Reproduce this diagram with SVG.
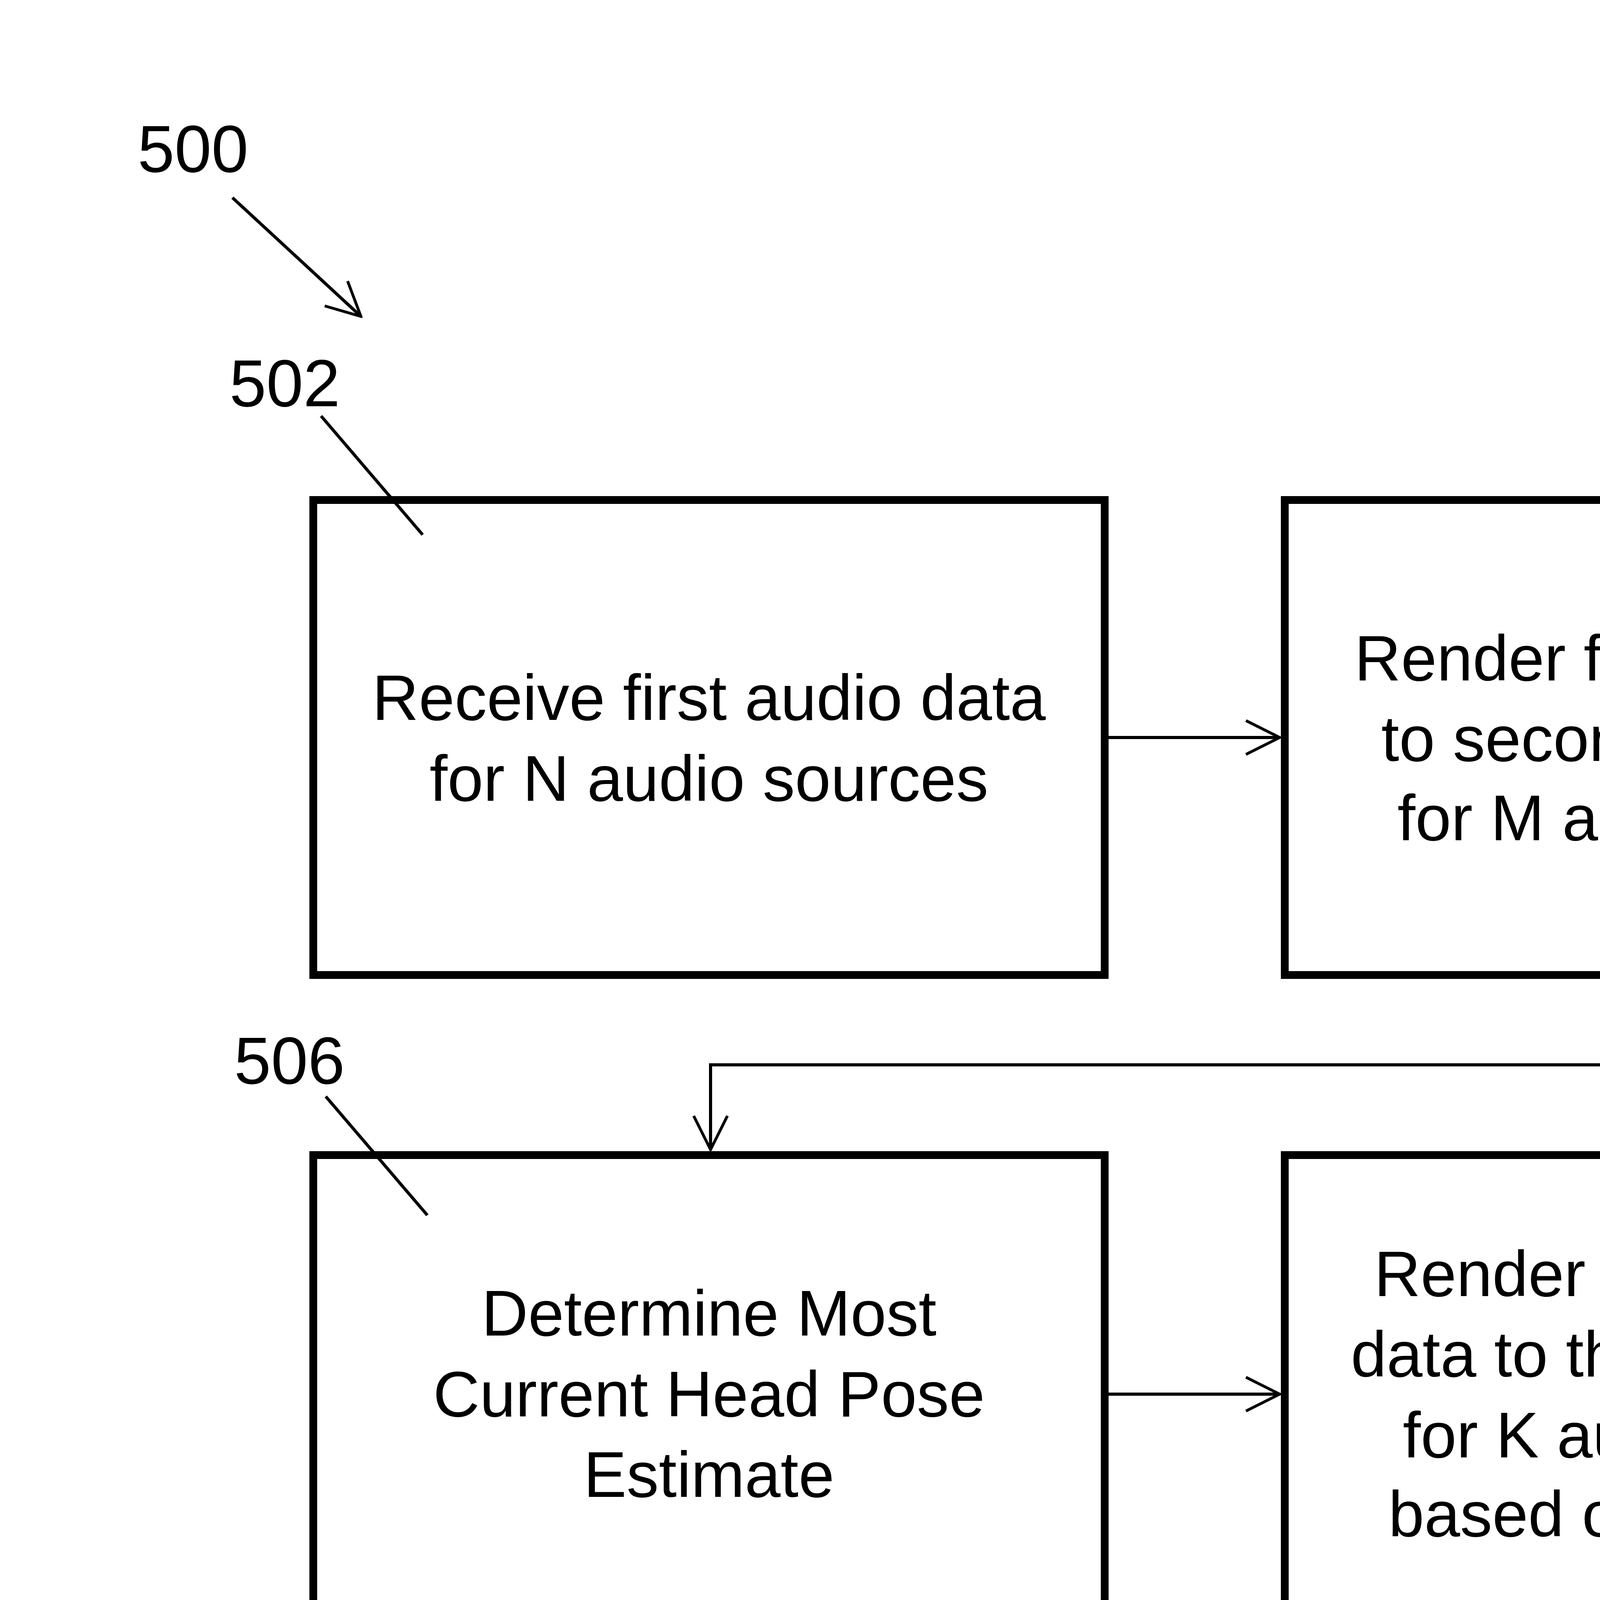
<svg xmlns="http://www.w3.org/2000/svg" width="5834" height="6291" viewBox="0 0 5834 6291">
<style>
.box{fill:#fff;stroke:#000;stroke-width:20}
.t{font-family:"Liberation Sans",Arial,sans-serif;font-size:165px;text-anchor:middle;fill:#000}
.n{font-family:"Liberation Sans",Arial,sans-serif;font-size:170px;text-anchor:middle;fill:#000}
.c{fill:none;stroke:#000;stroke-width:8}
</style>
<defs><marker id="a" viewBox="0 0 20 20" refX="19" refY="10" markerWidth="12" markerHeight="12" markerUnits="strokeWidth" orient="auto"><path d="M1,1 L19,10 L1,19" fill="none" stroke="#000" stroke-width="1.5"/></marker></defs>
<rect width="5834" height="6291" fill="#fff"/>
<g id="n500"><text class="n" x="494" y="440">500</text></g>
<g id="n502"><rect class="box" x="802" y="1280" width="2026" height="1216"/><text class="t" x="1815" y="1843">Receive first audio data</text><text class="t" x="1815" y="2050">for N audio sources</text><text class="n" x="729" y="1040">502</text><line class="c" x1="822" y1="1065" x2="1082" y2="1369"/></g>
<g id="n504"><rect class="box" x="3289" y="1280" width="2026" height="1216"/><text class="t" x="4302" y="1742">Render first audio data</text><text class="t" x="4302" y="1948">to second audio data</text><text class="t" x="4302" y="2151">for M audio sources</text><text class="n" x="5319" y="1040">504</text><line class="c" x1="5234" y1="1142" x2="4975" y2="1369"/></g>
<g id="n506"><rect class="box" x="802" y="2957" width="2026" height="1216"/><text class="t" x="1815" y="3419">Determine Most</text><text class="t" x="1815" y="3626">Current Head Pose</text><text class="t" x="1815" y="3832">Estimate</text><text class="n" x="741" y="2774">506</text><line class="c" x1="834" y1="2807" x2="1094" y2="3111"/></g>
<g id="n508"><rect class="box" x="3289" y="2957" width="2026" height="1216"/><text class="t" x="4302" y="3318">Render second audio</text><text class="t" x="4302" y="3524">data to third audio data</text><text class="t" x="4302" y="3731">for K audio sources</text><text class="t" x="4302" y="3933">based on head pose</text><text class="n" x="5311" y="2774">508</text><line class="c" x1="5226" y1="2876" x2="4963" y2="3111"/></g>
<g id="n510"><rect class="box" x="802" y="4638" width="2026" height="1216"/><text class="t" x="1815" y="5205">Present sound based on</text><text class="t" x="1815" y="5408">third audio data</text><text class="n" x="741" y="4415">510</text><line class="c" x1="834" y1="4448" x2="1094" y2="4752"/></g>
<g id="connectors">
<line class="c" x1="595" y1="506" x2="924" y2="810" marker-end="url(#a)"/>
<line class="c" x1="2838" y1="1888" x2="3276" y2="1888" marker-end="url(#a)"/>
<polyline class="c" points="4302,2506 4302,2726 1819,2726 1819,2943" marker-end="url(#a)"/>
<line class="c" x1="2838" y1="3569" x2="3276" y2="3569" marker-end="url(#a)"/>
<polyline class="c" points="4302,4183 4302,4403 1819,4403 1819,4624" marker-end="url(#a)"/>
</g>
</svg>
